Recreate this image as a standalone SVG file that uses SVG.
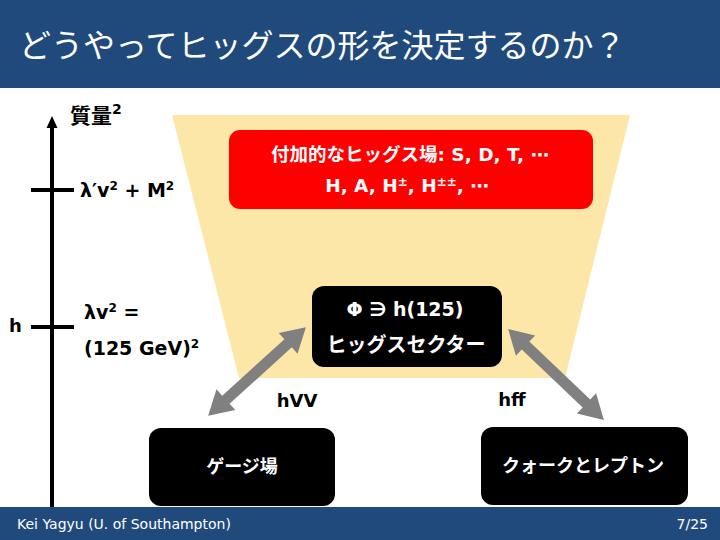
<svg xmlns="http://www.w3.org/2000/svg" xmlns:xlink="http://www.w3.org/1999/xlink" width="720" height="540" viewBox="0 0 720 540">
<style>
.t{font-family:"DejaVu Sans","Noto Sans CJK JP",sans-serif;font-weight:bold;}
.w{fill:#ffffff;}
.k{fill:#000000;}
.bar{fill:#214a7c;}
.tick{stroke:#000;stroke-width:4;}
.arr{fill:#808080;}
</style>
<defs>
<polygon id="dblarrow" points="-66,0 -42,-14 -42,-5.5 42,-5.5 42,-14 66,0 42,14 42,5.5 -42,5.5 -42,14"/>
</defs>
<rect width="720" height="540" fill="#ffffff"/>
<g id="header">
<rect class="bar" x="0" y="0" width="720" height="88"/>
<text x="19" y="57" font-family="'Noto Sans CJK JP',sans-serif" font-size="32" fill="#ffffff">どうやってヒッグスの形を決定するのか？</text>
</g>
<g id="background-region">
<polygon points="172,115 630,115 565,378 239,378" fill="#fde7a8"/>
</g>
<g id="axis">
<line x1="52" y1="126" x2="52" y2="508" stroke="#000" stroke-width="4"/>
<polygon points="52,116 46.5,128 57.5,128" fill="#000"/>
<line class="tick" x1="31" y1="190" x2="74" y2="190"/>
<line class="tick" x1="31" y1="327" x2="74" y2="327"/>
<text class="t k" x="70" y="123" font-size="21">質量<tspan font-size="14" dy="-9">2</tspan></text>
<text class="t k" x="80" y="197" font-size="19">λ′v<tspan font-size="12" dy="-7">2</tspan><tspan dy="7"> + M</tspan><tspan font-size="12" dy="-7">2</tspan></text>
<text class="t k" x="9" y="332" font-size="18">h</text>
<text class="t k" x="84" y="319" font-size="19">λv<tspan font-size="12" dy="-7">2</tspan><tspan dy="7"> =</tspan></text>
<text class="t k" x="84" y="355" font-size="19">(125 GeV)<tspan font-size="12" dy="-7">2</tspan></text>
</g>
<g id="extra-higgs">
<rect x="229" y="130" width="364" height="79" rx="11" fill="#ff0000"/>
<text class="t w" x="410" y="161" font-size="18.5" text-anchor="middle">付加的なヒッグス場: S, D, T, ⋯</text>
<text class="t w" x="407" y="192" font-size="18.5" text-anchor="middle">H, A, H<tspan font-size="12" dy="-6">±</tspan><tspan dy="6">, H</tspan><tspan font-size="12" dy="-6">±±</tspan><tspan dy="6">, ⋯</tspan></text>
</g>
<g id="higgs-sector">
<rect x="312" y="286" width="190" height="81" rx="12" fill="#000"/>
<text class="t w" x="405" y="316" font-size="19" text-anchor="middle">Φ ∋ h(125)</text>
<text class="t w" x="406" y="352" font-size="20" text-anchor="middle">ヒッグスセクター</text>
</g>
<g id="gauge">
<rect x="149" y="428" width="186" height="78" rx="12" fill="#000"/>
<text class="t w" x="242" y="473" font-size="18" text-anchor="middle">ゲージ場</text>
</g>
<g id="fermions">
<rect x="481" y="427" width="207" height="78" rx="12" fill="#000"/>
<text class="t w" x="583" y="472" font-size="18" text-anchor="middle">クォークとレプトン</text>
</g>
<g id="connectors">
<use xlink:href="#dblarrow" class="arr" transform="translate(257,371.5) rotate(-42.2)"/>
<use xlink:href="#dblarrow" class="arr" transform="translate(556,374.5) rotate(43.5)"/>
<text class="t k" x="297" y="407" font-size="18" text-anchor="middle">hVV</text>
<text class="t k" x="512" y="406" font-size="18" text-anchor="middle">hff</text>
</g>
<g id="footer">
<rect class="bar" x="0" y="507" width="720" height="33"/>
<text x="17" y="529" font-family="'DejaVu Sans',sans-serif" font-size="14" fill="#ffffff">Kei Yagyu (U. of Southampton)</text>
<text x="708" y="529" font-family="'DejaVu Sans',sans-serif" font-size="14" fill="#ffffff" text-anchor="end">7/25</text>
</g>
</svg>
